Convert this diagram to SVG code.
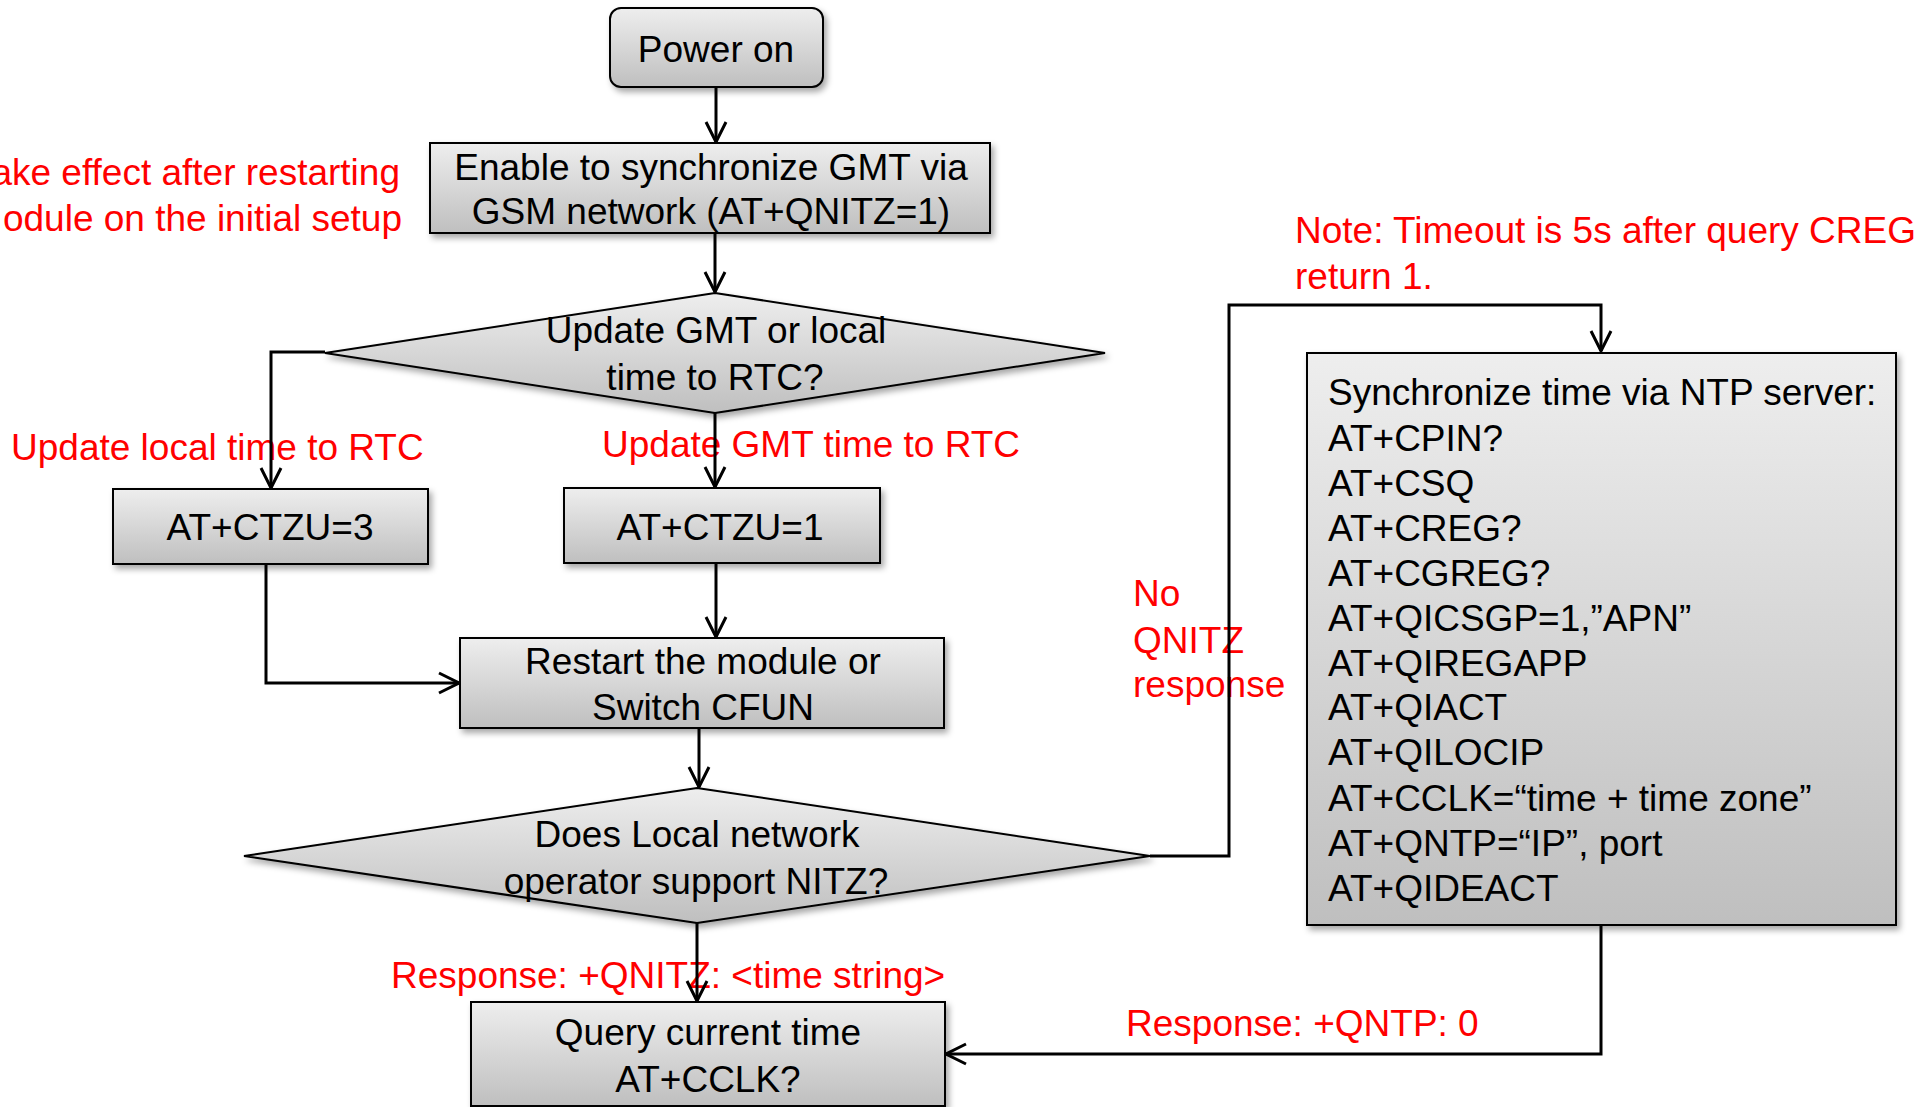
<svg xmlns="http://www.w3.org/2000/svg" width="1931" height="1107" viewBox="0 0 1931 1107">
<style>
text{font-family:"Liberation Sans",Arial,sans-serif;font-size:37px;fill:#000}
.c{text-anchor:middle}
.r{fill:#ff0000}
.box{fill:url(#g);stroke:#000;stroke-width:2;filter:url(#sh)}
.ln{fill:none;stroke:#000;stroke-width:3;stroke-linejoin:miter}
</style>
<defs>
<linearGradient id="g" x1="0" y1="0" x2="0" y2="1">
<stop offset="0" stop-color="#eeeeee"/>
<stop offset="1" stop-color="#bfbfbf"/>
</linearGradient>
<filter id="sh" x="-10%" y="-10%" width="130%" height="140%">
<feDropShadow dx="3" dy="4" stdDeviation="3" flood-color="#000" flood-opacity="0.35"/>
</filter>
<marker id="ah" viewBox="-24 -12 26 24" markerWidth="26" markerHeight="24" refX="0" refY="0" markerUnits="userSpaceOnUse" orient="auto">
<path d="M-20,-10 L0,0 L-20,10" fill="none" stroke="#000" stroke-width="3"/>
</marker>
</defs>
<rect width="1931" height="1107" fill="#fff"/>

<g id="power-on">
<rect class="box" x="610" y="8" width="213" height="79" rx="11"/>
<text class="c" x="716" y="62">Power on</text>
</g>
<g id="enable-gmt">
<rect class="box" x="430" y="143" width="560" height="90"/>
<text class="c" x="711" y="180">Enable to synchronize GMT via</text>
<text class="c" x="711" y="224">GSM network (AT+QNITZ=1)</text>
</g>
<g id="decision-rtc">
<polygon class="box" points="715,293 1105,353 715,413 325,353"/>
<text class="c" x="716" y="343">Update GMT or local</text>
<text class="c" x="715" y="390">time to RTC?</text>
</g>
<g id="ctzu3">
<rect class="box" x="113" y="489" width="315" height="75"/>
<text class="c" x="270" y="540">AT+CTZU=3</text>
</g>
<g id="ctzu1">
<rect class="box" x="564" y="488" width="316" height="75"/>
<text class="c" x="720" y="540">AT+CTZU=1</text>
</g>
<g id="restart">
<rect class="box" x="460" y="638" width="484" height="90"/>
<text class="c" x="703" y="674">Restart the module or</text>
<text class="c" x="703" y="720">Switch CFUN</text>
</g>
<g id="decision-nitz">
<polygon class="box" points="697,788 1150,856 697,923 244,856"/>
<text class="c" x="697" y="847">Does Local network</text>
<text class="c" x="696" y="894">operator support NITZ?</text>
</g>
<g id="query-time">
<rect class="box" x="471" y="1002" width="474" height="104"/>
<text class="c" x="708" y="1045">Query current time</text>
<text class="c" x="708" y="1092">AT+CCLK?</text>
</g>
<g id="ntp-sync">
<rect class="box" x="1307" y="353" width="589" height="572"/>
<text x="1328" y="405">Synchronize time via NTP server:</text>
<text x="1328" y="451">AT+CPIN?</text>
<text x="1328" y="496">AT+CSQ</text>
<text x="1328" y="541">AT+CREG?</text>
<text x="1328" y="586">AT+CGREG?</text>
<text x="1328" y="631">AT+QICSGP=1,”APN”</text>
<text x="1328" y="676">AT+QIREGAPP</text>
<text x="1328" y="720">AT+QIACT</text>
<text x="1328" y="765">AT+QILOCIP</text>
<text x="1328" y="811">AT+CCLK=“time + time zone”</text>
<text x="1328" y="856">AT+QNTP=“IP”, port</text>
<text x="1328" y="901">AT+QIDEACT</text>
</g>

<g id="labels">
<text class="r" x="400" y="185" text-anchor="end">ake effect after restarting</text>
<text class="r" x="402" y="231" text-anchor="end">odule on the initial  setup</text>
<text class="r" x="11" y="460">Update local time to RTC</text>
<text class="r" x="602" y="457">Update GMT time to RTC</text>
<text class="r" x="391" y="988">Response: +QNITZ: &lt;time string&gt;</text>
<text class="r" x="1126" y="1036">Response: +QNTP: 0</text>
<text class="r" x="1133" y="606">No</text>
<text class="r" x="1133" y="653">QNITZ</text>
<text class="r" x="1133" y="697">response</text>
<text class="r" x="1295" y="243">Note: Timeout is 5s after query CREG</text>
<text class="r" x="1295" y="289">return 1.</text>
</g>

<g id="connectors">
<path class="ln" d="M716,87 L716,142" marker-end="url(#ah)"/>
<path class="ln" d="M715,233 L715,292" marker-end="url(#ah)"/>
<path class="ln" d="M325,352 L271,352 L271,488" marker-end="url(#ah)"/>
<path class="ln" d="M715,413 L715,487" marker-end="url(#ah)"/>
<path class="ln" d="M266,564 L266,683 L459,683" marker-end="url(#ah)"/>
<path class="ln" d="M716,563 L716,637" marker-end="url(#ah)"/>
<path class="ln" d="M699,728 L699,787" marker-end="url(#ah)"/>
<path class="ln" d="M697,923 L697,1001" marker-end="url(#ah)"/>
<path class="ln" d="M1150,856 L1229,856 L1229,305 L1601,305 L1601,351" marker-end="url(#ah)"/>
<path class="ln" d="M1601,925 L1601,1054 L946,1054" marker-end="url(#ah)"/>
</g>
</svg>
